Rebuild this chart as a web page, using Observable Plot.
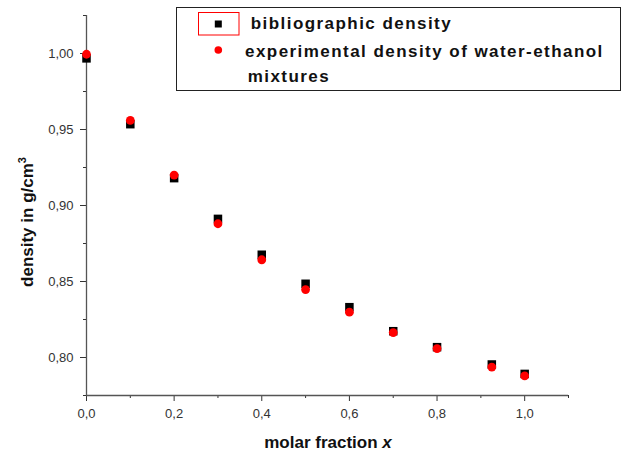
<!DOCTYPE html>
<html>
<head>
<meta charset="utf-8">
<script src="https://cdn.jsdelivr.net/npm/d3@7"></script>
<script src="https://cdn.jsdelivr.net/npm/@observablehq/plot@0.6"></script>
<style>
  html, body { margin: 0; padding: 0; background: white; }
  #wrap { position: relative; width: 622px; height: 452px; overflow: hidden; }
  #wrap svg { position: absolute; left: 0; top: 0; }
</style>
</head>
<body>
<div id="wrap"></div>
<script>
// ---- data ----
const molarFraction = [0, 0.1, 0.2, 0.3, 0.4, 0.5, 0.6, 0.7, 0.8, 0.925, 1.0];
const bibliographicDensity = [0.9968, 0.9535, 0.9180, 0.8912, 0.8676, 0.8485, 0.8331, 0.8173, 0.8068, 0.7954, 0.7892];
const experimentalDensity = [0.9995, 0.9560, 0.9200, 0.8880, 0.8643, 0.8447, 0.8298, 0.8164, 0.8059, 0.7937, 0.7879];
const xMajorTicks = [0, 0.2, 0.4, 0.6, 0.8, 1.0];
const xMinorTicks = [0.1, 0.3, 0.5, 0.7, 0.9, 1.1];
const yMajorTicks = [0.80, 0.85, 0.90, 0.95, 1.00];
const yMinorTicks = [0.775, 0.825, 0.875, 0.925, 0.975, 1.025];
const seriesNames = ["bibliographic density", "experimental density of water-ethanol", "mixtures"];
const xTitle = "molar fraction ";
const xTitleVar = "x";
const yTitle = "density in g/cm";
const yTitleSup = "3";

const bibRows = molarFraction.map((x, i) => ({x, y: bibliographicDensity[i]}));
const expRows = molarFraction.map((x, i) => ({x, y: experimentalDensity[i]}));

const fmtX = d => d.toFixed(1).replace(".", ",");
const fmtY = d => d.toFixed(2).replace(".", ",");

const chart = Plot.plot({
  width: 622,
  height: 452,
  marginLeft: 86,
  marginRight: 54,
  marginTop: 15,
  marginBottom: 57,
  x: {domain: [0, 1.1]},
  y: {domain: [0.775, 1.025]},
  style: {fontFamily: "'Liberation Sans', Arial, sans-serif", fontSize: "13px", color: "#333", background: "white"},
  marks: [
    Plot.axisX(xMajorTicks, {tickSize: 6, tickPadding: 7, tickFormat: fmtX, label: null, fontSize: 13}),
    Plot.axisX(xMinorTicks, {tickSize: 3, tickFormat: () => "", label: null}),
    Plot.axisY(yMajorTicks, {tickSize: 6, tickPadding: 7, tickFormat: fmtY, label: null, fontSize: 13}),
    Plot.axisY(yMinorTicks, {tickSize: 3, tickFormat: () => "", label: null}),
    Plot.ruleX([0], {y1: 0.775, y2: 1.025, stroke: "#555", strokeWidth: 1.3}),
    Plot.ruleY([0.775], {x1: 0, x2: 1.1, stroke: "#555", strokeWidth: 1.3}),
    Plot.dot(bibRows, {x: "x", y: "y", symbol: "square", r: 4.8, fill: "black"}),
    Plot.dot(expRows, {x: "x", y: "y", r: 4.4, fill: "#ff0000"})
  ]
});
document.getElementById("wrap").appendChild(chart);

// ---- overlay: titles and legend ----
const ov = d3.select("#wrap").append("svg")
  .attr("width", 622).attr("height", 452)
  .style("font-family", "'Liberation Sans', Arial, sans-serif");

// x title
const xt = ov.append("text")
  .attr("x", 328).attr("y", 447.5)
  .attr("text-anchor", "middle")
  .attr("font-weight", "bold").attr("font-size", 17).attr("fill", "#111");
xt.append("tspan").text(xTitle);
xt.append("tspan").attr("font-style", "italic").text(xTitleVar);

// y title
const yt = ov.append("text")
  .attr("transform", "translate(33,222) rotate(-90)")
  .attr("text-anchor", "middle")
  .attr("font-weight", "bold").attr("font-size", 17).attr("fill", "#111");
yt.append("tspan").text(yTitle);
yt.append("tspan").attr("dy", -7).attr("font-size", 11).text(yTitleSup);

// legend
ov.append("rect")
  .attr("x", 176.5).attr("y", 7.5).attr("width", 444).attr("height", 83)
  .attr("fill", "white").attr("stroke", "#222").attr("stroke-width", 1);
ov.append("rect")
  .attr("x", 198.5).attr("y", 12.5).attr("width", 40.5).attr("height", 22.5)
  .attr("fill", "none").attr("stroke", "#ff0000").attr("stroke-width", 1);
ov.append("rect")
  .attr("x", 214.8).attr("y", 20.5).attr("width", 7).attr("height", 7)
  .attr("fill", "black");
ov.append("circle")
  .attr("cx", 218.3).attr("cy", 50).attr("r", 3.8).attr("fill", "#ff0000");

const legY = [29.3, 56.5, 81.7];
const legX = [250.7, 245, 247.7];
seriesNames.forEach((t, i) => {
  ov.append("text")
    .attr("x", legX[i]).attr("y", legY[i])
    .attr("font-weight", "bold").attr("font-size", 17)
    .attr("letter-spacing", "1.45px")
    .attr("fill", "#111")
    .text(t);
});
</script>
</body>
</html>
